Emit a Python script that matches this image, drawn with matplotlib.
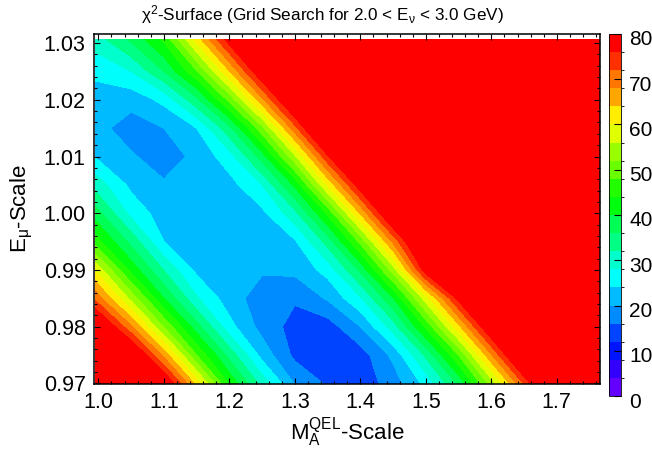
import numpy as np
import matplotlib
matplotlib.use("Agg")
import matplotlib.pyplot as plt
from matplotlib.colors import ListedColormap, BoundaryNorm
from matplotlib.cm import ScalarMappable
from matplotlib.ticker import MultipleLocator, FormatStrFormatter
from matplotlib.transforms import ScaledTranslation

plt.rcParams['font.family'] = ['Liberation Sans', 'DejaVu Sans']
plt.rcParams['mathtext.fontset'] = 'custom'
plt.rcParams['mathtext.rm'] = 'Liberation Sans'
plt.rcParams['mathtext.it'] = 'Liberation Sans:italic'
plt.rcParams['mathtext.bf'] = 'Liberation Sans:bold'

# ---- data: chi2 on a coarse grid ----
ma_scale = [0.995, 1.05, 1.10, 1.15, 1.20, 1.25, 1.30, 1.35,
            1.40, 1.45, 1.50, 1.55, 1.60, 1.65, 1.70, 1.766]
emu_scale = [0.970, 0.975, 0.980, 0.985, 0.990, 0.995, 1.000,
             1.005, 1.010, 1.015, 1.020, 1.025, 1.0307]

chi2_y0970 = [125, 102, 82, 62.4, 43.2, 30.4, 19.7, 15.4, 13.5, 17.9, 25.2, 36.8, 53.8, 72.5, 92, 120]
chi2_y0975 = [106, 84, 66.7, 48, 34.5, 22.5, 15, 13.5, 14, 21, 32.8, 48, 67.6, 87, 106, 130]
chi2_y0980 = [85, 68.6, 51.6, 37.6, 25.4, 18.5, 14.5, 14, 20, 30, 44.8, 62.8, 82, 102, 121, 146]
chi2_y0985 = [71, 54.7, 40, 28.5, 21.8, 18, 16.5, 20.5, 27.5, 39.7, 58, 77.5, 97, 117, 137, 160]
chi2_y0990 = [59.6, 42.7, 31.8, 23, 21, 20.5, 21, 25.5, 36.8, 53.8, 78.7, 98, 118, 138, 158, 180]
chi2_y0995 = [46, 34.7, 24, 22, 21, 21.5, 23.5, 33.6, 49, 68.8, 88, 108, 127, 147, 166, 190]
chi2_y1000 = [38, 26.7, 22, 21, 21, 23, 30.8, 44.8, 64.4, 84, 103, 123, 142, 162, 181, 200]
chi2_y1005 = [30.4, 23, 20.5, 21, 22.5, 28, 40.9, 60.4, 79, 99, 118, 138, 157, 177, 196, 200]
chi2_y1010 = [23.8, 20.5, 18, 21, 26.2, 37.9, 55.2, 75.2, 94, 114, 133, 153, 172, 192, 200, 200]
chi2_y1015 = [21.5, 18, 20, 24, 34.7, 50.8, 70.4, 90, 109, 129, 148, 168, 187, 200, 200, 200]
chi2_y1020 = [22, 21.5, 25.1, 34.8, 49.1, 66.9, 85, 105, 124, 144, 163, 183, 200, 200, 200, 200]
chi2_y1025 = [25, 28, 36, 47.6, 63.7, 81, 100, 120, 139, 159, 178, 198, 200, 200, 200, 200]
chi2_y1031 = [30, 36.8, 44.8, 61.6, 78.5, 98, 118, 137, 157, 176, 196, 200, 200, 200, 200, 200]

chi2 = np.array([chi2_y0970, chi2_y0975, chi2_y0980, chi2_y0985, chi2_y0990,
                 chi2_y0995, chi2_y1000, chi2_y1005, chi2_y1010, chi2_y1015,
                 chi2_y1020, chi2_y1025, chi2_y1031])

z_levels = list(range(0, 81, 4))
cbar_ticks = [0, 10, 20, 30, 40, 50, 60, 70, 80]
x_ticks = [1.0, 1.1, 1.2, 1.3, 1.4, 1.5, 1.6, 1.7]
y_ticks = [0.97, 0.98, 0.99, 1.00, 1.01, 1.02, 1.03]

# ROOT "pretty" palette (20 contour colours)
palette = ['#6300FF', '#3300FF', '#0014FF', '#0044FF', '#008BFF', '#00BBFF',
           '#00FFFC', '#00FFCC', '#00FF85', '#00FF55', '#00FF0E', '#22FF00',
           '#69FF00', '#99FF00', '#E0FF00', '#FFEE00', '#FFA700', '#FF7700',
           '#FF3000', '#FF0000']
cmap = ListedColormap(palette)
cmap.set_over('#FF0000')
norm = BoundaryNorm(z_levels, cmap.N)

fig = plt.figure(figsize=(6.52, 4.53), dpi=100)
ax = fig.add_axes([0.1442, 0.1534, 0.9210 - 0.1442, 0.9249 - 0.1534])

X, Y = np.meshgrid(ma_scale, emu_scale)
ax.contourf(X, Y, chi2, levels=z_levels, cmap=cmap, norm=norm, extend='max')

ax.set_xlim(0.9934, 1.7667)
ax.set_ylim(0.96997, 1.0316)
ax.set_xticks(x_ticks)
ax.set_yticks(y_ticks)
ax.xaxis.set_major_formatter(FormatStrFormatter('%.1f'))
ax.yaxis.set_major_formatter(FormatStrFormatter('%.2f'))
ax.xaxis.set_minor_locator(MultipleLocator(0.02))
ax.yaxis.set_minor_locator(MultipleLocator(0.002))
ax.tick_params(which='both', direction='in', top=True, right=True, width=0.8)
ax.tick_params(which='major', length=4.5, labelsize=15.5, pad=6)
ax.tick_params(which='minor', length=2.3)
for s in ax.spines.values():
    s.set_linewidth(1.1)

ax.set_xlabel(r'M$_{\mathrm{A}}^{\mathrm{QEL}}$-Scale', fontsize=16, labelpad=2)
ax.set_ylabel(r'E$_{\mathrm{μ}}$-Scale', fontsize=16, labelpad=6)

fig.text(0.495, 0.968, r'$\mathrm{χ}^{2}$-Surface (Grid Search for 2.0 < E$_{\mathrm{ν}}$ < 3.0 GeV)',
         ha='center', va='center', fontsize=12.3)

cax = fig.add_axes([0.9345, 0.1258, 0.0175, 0.925 - 0.1258])
sm = ScalarMappable(norm=norm, cmap=cmap)
cb = fig.colorbar(sm, cax=cax, ticks=cbar_ticks)
cb.outline.set_linewidth(0.6)
cax.tick_params(direction='in', length=5, width=0.8, labelsize=15, pad=6)
off = ScaledTranslation(0, -4 / 100, fig.dpi_scale_trans)
for lab in cax.get_yticklabels():
    lab.set_transform(lab.get_transform() + off)

fig.savefig('out.png', dpi=100)
